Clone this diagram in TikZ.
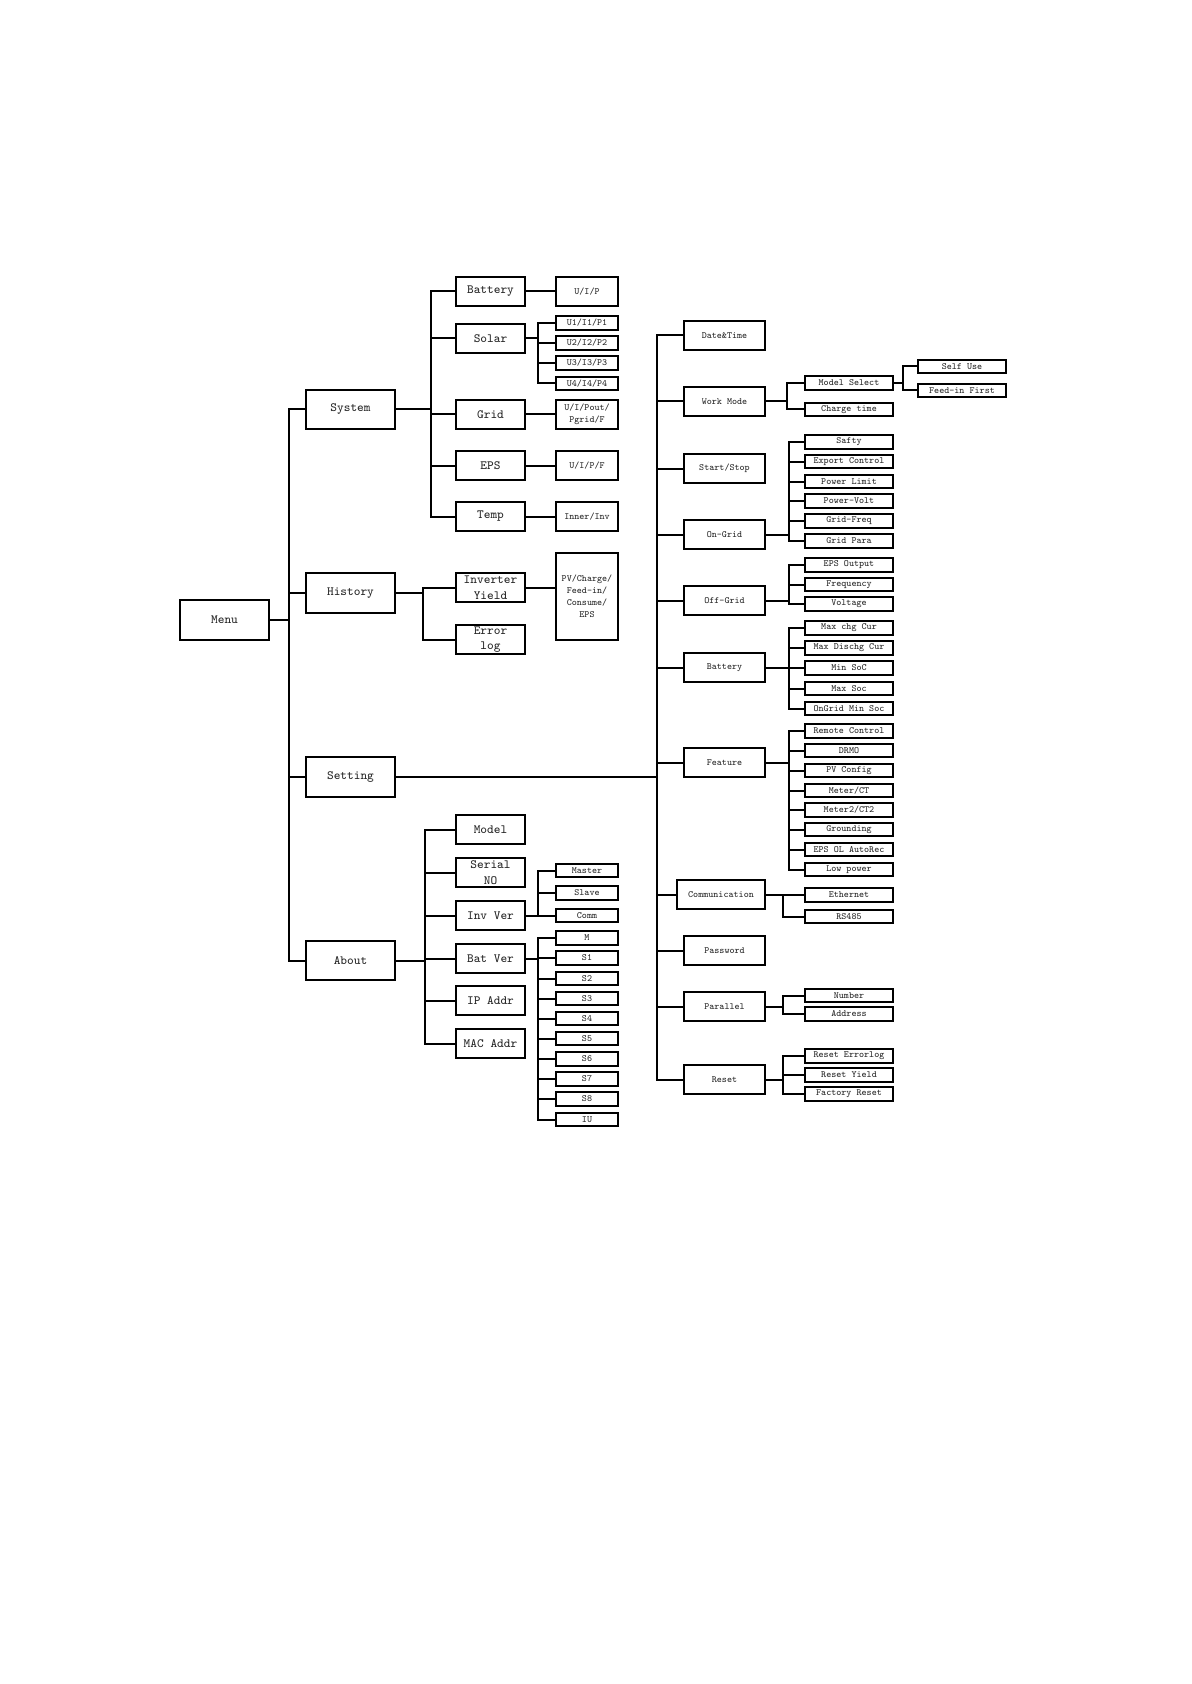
\documentclass[tikz,border=0pt]{standalone}
\usepackage{fontspec}
\tikzset{
  bx/.style={draw, line width=1pt, fill=white, inner sep=0pt, align=center,
    text=black!85, font=\ttfamily\fontsize{6.3}{7.7}\selectfont},
  sm/.style={bx, font=\ttfamily\fontsize{4.76}{6}\selectfont},
  ln/.style={line width=1pt, line cap=rect}
}
\newcommand\mkbox[6]{\node[#1,minimum width={(#5-#3-2)*0.5pt},minimum height={(#6-#4-2)*0.5pt}] (#2) at ({(#3+#5)/2},{(#4+#6)/2})}
% #1 parent, #2 trunk x, #3 first child, #4 last child, #5 all children
\newcommand\branch[5]{%
  \coordinate (tx) at (#2,0);
  \draw[ln] (#1.east) -- (#1.east -| tx);
  \draw[ln] (tx |- #3.west) -- (tx |- #4.west);
  \foreach \ch in {#5} {\draw[ln] (tx |- \ch.west) -- (\ch.west);}
}
\begin{document}
\begin{tikzpicture}[x=0.5pt,y=-0.5pt]
\useasboundingbox (0,0) rectangle (1191,1684);
% level 0/1
\mkbox{bx}{menu}{179}{599}{270}{641}{Menu};
\mkbox{bx}{sys}{305}{389}{396}{430}{System};
\mkbox{bx}{hist}{305}{572}{396}{614}{History};
\mkbox{bx}{set}{305}{756}{396}{798}{Setting};
\mkbox{bx}{about}{305}{940}{396}{981}{About};
% system
\mkbox{bx}{bat}{455}{276}{526}{307}{Battery};
\mkbox{bx}{sol}{455}{323}{526}{354}{Solar};
\mkbox{bx}{grid}{455}{399}{526}{430}{Grid};
\mkbox{bx}{eps}{455}{450}{526}{481}{EPS};
\mkbox{bx}{temp}{455}{501}{526}{532}{Temp};
\mkbox{sm}{uip}{555}{276}{619}{307}{U/I/P};
\mkbox{sm}{u1}{555}{315}{619}{331}{U1/I1/P1};
\mkbox{sm}{u2}{555}{335}{619}{351}{U2/I2/P2};
\mkbox{sm}{u3}{555}{355}{619}{371}{U3/I3/P3};
\mkbox{sm}{u4}{555}{376}{619}{391}{U4/I4/P4};
\mkbox{sm}{uipg}{555}{399}{619}{430}{U/I/Pout/\\Pgrid/F};
\mkbox{sm}{uipf}{555}{450}{619}{481}{U/I/P/F};
\mkbox{sm}{inner}{555}{501}{619}{532}{Inner/Inv};
% history
\mkbox{bx}{iy}{455}{572}{526}{603}{Inverter\\Yield};
\mkbox{bx}{el}{455}{624}{526}{655}{Error\\log};
\mkbox{sm}{pv}{555}{552}{619}{641}{PV/Charge/\\Feed-in/\\Consume/\\EPS};
% about
\mkbox{bx}{model}{455}{814}{526}{845}{Model};
\mkbox{bx}{serial}{455}{857}{526}{888}{Serial\\NO};
\mkbox{bx}{invver}{455}{900}{526}{931}{Inv Ver};
\mkbox{bx}{batver}{455}{943}{526}{974}{Bat Ver};
\mkbox{bx}{ip}{455}{985}{526}{1016}{IP Addr};
\mkbox{bx}{mac}{455}{1028}{526}{1059}{MAC Addr};
\mkbox{sm}{master}{555}{863}{619}{878}{Master};
\mkbox{sm}{slave}{555}{885}{619}{901}{Slave};
\mkbox{sm}{comm}{555}{908}{619}{923}{Comm};
\mkbox{sm}{bM}{555}{930}{619}{946}{M};
\mkbox{sm}{bS1}{555}{950}{619}{966}{S1};
\mkbox{sm}{bS2}{555}{971}{619}{986}{S2};
\mkbox{sm}{bS3}{555}{991}{619}{1006}{S3};
\mkbox{sm}{bS4}{555}{1011}{619}{1026}{S4};
\mkbox{sm}{bS5}{555}{1031}{619}{1046}{S5};
\mkbox{sm}{bS6}{555}{1051}{619}{1067}{S6};
\mkbox{sm}{bS7}{555}{1071}{619}{1087}{S7};
\mkbox{sm}{bS8}{555}{1091}{619}{1107}{S8};
\mkbox{sm}{bIU}{555}{1112}{619}{1127}{IU};
% setting level
\mkbox{sm}{dt}{683}{320}{766}{351}{Date\&Time};
\mkbox{sm}{wm}{683}{386}{766}{417}{Work Mode};
\mkbox{sm}{ss}{683}{453}{766}{484}{Start/Stop};
\mkbox{sm}{og}{683}{519}{766}{550}{On-Grid};
\mkbox{sm}{offg}{683}{585}{766}{616}{Off-Grid};
\mkbox{sm}{sbat}{683}{652}{766}{683}{Battery};
\mkbox{sm}{feat}{683}{747}{766}{778}{Feature};
\mkbox{sm}{com}{676}{879}{766}{910}{Communication};
\mkbox{sm}{pw}{683}{935}{766}{966}{Password};
\mkbox{sm}{par}{683}{991}{766}{1022}{Parallel};
\mkbox{sm}{rst}{683}{1064}{766}{1095}{Reset};
% work mode
\mkbox{sm}{ms}{804}{375}{894}{391}{Model Select};
\mkbox{sm}{ct}{804}{402}{894}{417}{Charge time};
\mkbox{sm}{su}{917}{359}{1007}{374}{Self Use};
\mkbox{sm}{fif}{917}{383}{1007}{398}{Feed-in First};
% on-grid
\mkbox{sm}{g1}{804}{434}{894}{450}{Safty};
\mkbox{sm}{g2}{804}{454}{894}{469}{Export Control};
\mkbox{sm}{g3}{804}{474}{894}{489}{Power Limit};
\mkbox{sm}{g4}{804}{493}{894}{509}{Power-Volt};
\mkbox{sm}{g5}{804}{513}{894}{529}{Grid-Freq};
\mkbox{sm}{g6}{804}{533}{894}{549}{Grid Para};
% off-grid
\mkbox{sm}{f1}{804}{557}{894}{573}{EPS Output};
\mkbox{sm}{f2}{804}{577}{894}{592}{Frequency};
\mkbox{sm}{f3}{804}{596}{894}{612}{Voltage};
% battery
\mkbox{sm}{b1}{804}{620}{894}{636}{Max chg Cur};
\mkbox{sm}{b2}{804}{640}{894}{656}{Max Dischg Cur};
\mkbox{sm}{b3}{804}{660}{894}{676}{Min SoC};
\mkbox{sm}{b4}{804}{681}{894}{696}{Max Soc};
\mkbox{sm}{b5}{804}{701}{894}{716}{OnGrid Min Soc};
% feature
\mkbox{sm}{e1}{804}{723}{894}{739}{Remote Control};
\mkbox{sm}{e2}{804}{743}{894}{758}{DRMO};
\mkbox{sm}{e3}{804}{763}{894}{778}{PV Config};
\mkbox{sm}{e4}{804}{783}{894}{798}{Meter/CT};
\mkbox{sm}{e5}{804}{802}{894}{818}{Meter2/CT2};
\mkbox{sm}{e6}{804}{822}{894}{837}{Grounding};
\mkbox{sm}{e7}{804}{842}{894}{857}{EPS OL AutoRec};
\mkbox{sm}{e8}{804}{862}{894}{877}{Low power};
% communication
\mkbox{sm}{c1}{804}{887}{894}{903}{Ethernet};
\mkbox{sm}{c2}{804}{909}{894}{924}{RS485};
% parallel
\mkbox{sm}{p1}{804}{988}{894}{1003}{Number};
\mkbox{sm}{p2}{804}{1006}{894}{1022}{Address};
% reset
\mkbox{sm}{r1}{804}{1048}{894}{1064}{Reset Errorlog};
\mkbox{sm}{r2}{804}{1067}{894}{1083}{Reset Yield};
\mkbox{sm}{r3}{804}{1086}{894}{1102}{Factory Reset};
% connectors
\branch{menu}{289}{sys}{about}{sys,hist,set,about}
\branch{sys}{431}{bat}{temp}{bat,sol,grid,eps,temp}
\branch{sol}{538}{u1}{u4}{u1,u2,u3,u4}
\draw[ln] (bat.east) -- (uip.west);
\draw[ln] (grid.east) -- (uipg.west);
\draw[ln] (eps.east) -- (uipf.west);
\draw[ln] (temp.east) -- (inner.west);
\branch{hist}{423}{iy}{el}{iy,el}
\draw[ln] (iy.east) -- (iy.east -| pv.west);
\branch{about}{425}{model}{mac}{model,serial,invver,batver,ip,mac}
\branch{invver}{538}{master}{comm}{master,slave,comm}
\branch{batver}{538}{bM}{bIU}{bM,bS1,bS2,bS3,bS4,bS5,bS6,bS7,bS8,bIU}
\branch{set}{656.7}{dt}{rst}{dt,wm,ss,og,offg,sbat,feat,com,pw,par,rst}
\branch{wm}{787}{ms}{ct}{ms,ct}
\branch{ms}{903.3}{su}{fif}{su,fif}
\branch{og}{788.7}{g1}{g6}{g1,g2,g3,g4,g5,g6}
\branch{offg}{788.7}{f1}{f3}{f1,f2,f3}
\branch{sbat}{788.7}{b1}{b5}{b1,b2,b3,b4,b5}
\branch{feat}{788.7}{e1}{e8}{e1,e2,e3,e4,e5,e6,e7,e8}
\branch{com}{782.7}{c1}{c2}{c1,c2}
\branch{par}{782.7}{p1}{p2}{p1,p2}
\branch{rst}{782.7}{r1}{r3}{r1,r2,r3}
\end{tikzpicture}
\end{document}
